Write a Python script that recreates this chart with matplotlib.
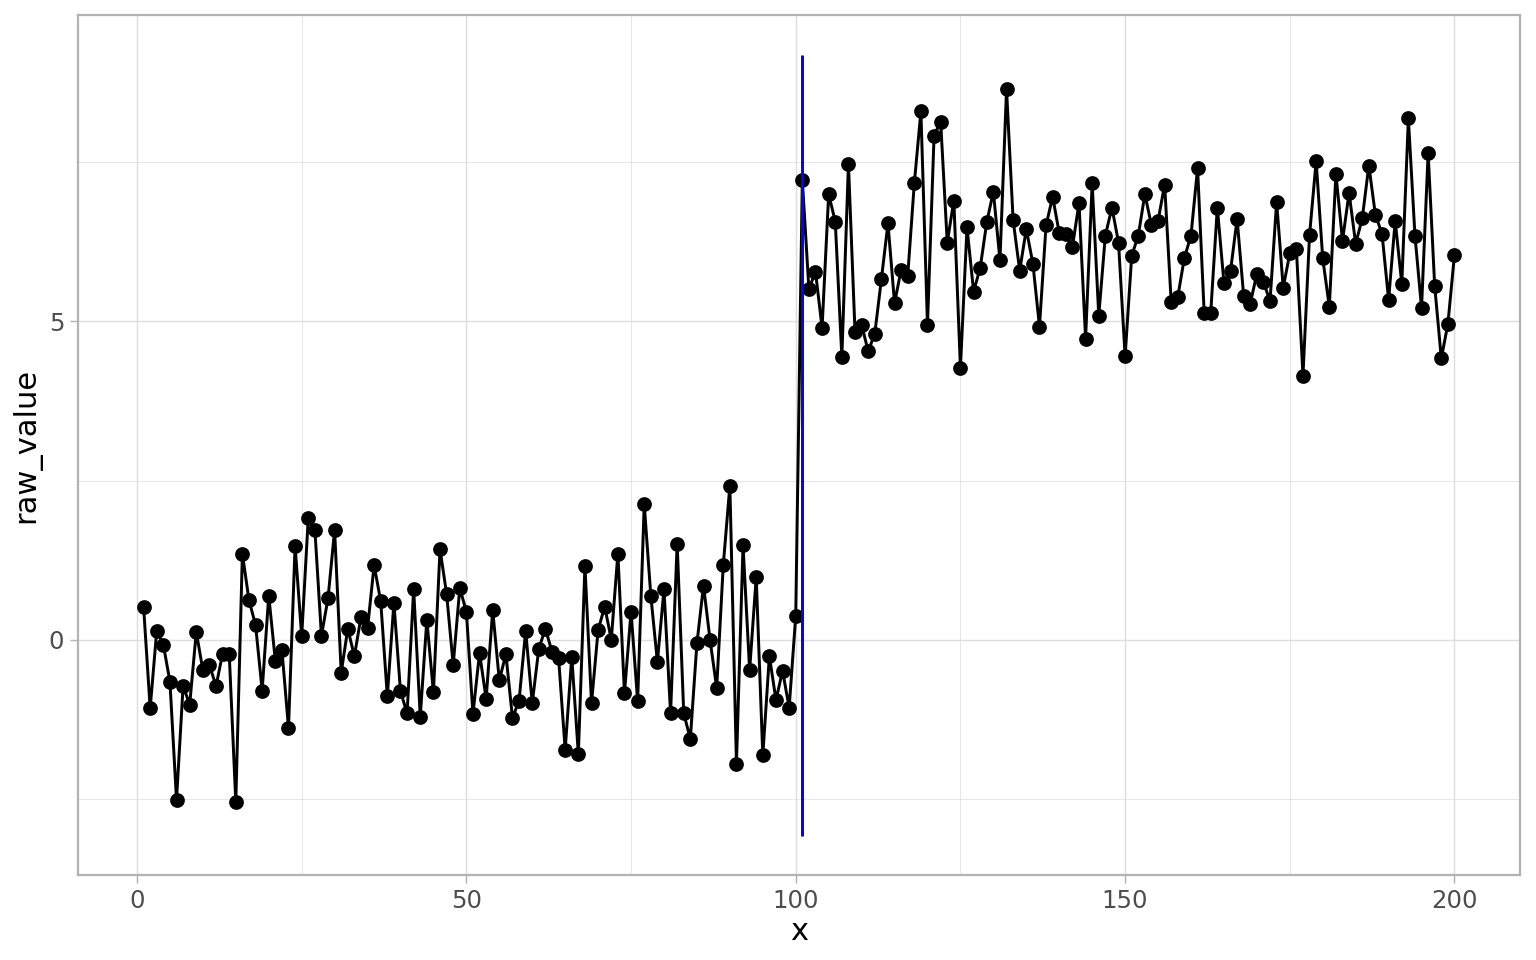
"""
Step-change series: raw_value against x, with a blue marker at the change point
"""
import matplotlib
matplotlib.use('Agg')
import matplotlib.pyplot as plt
from matplotlib.ticker import MultipleLocator
import numpy as np

x = np.arange(1, 201)
raw_value = [
    0.52, -1.08, 0.14, -0.08, -0.66, -2.52, -0.73, -1.02, 0.12, -0.48,
    -0.40, -0.73, -0.22, -0.22, -2.55, 1.35, 0.62, 0.23, -0.80, 0.69,
    -0.33, -0.16, -1.39, 1.47, 0.05, 1.91, 1.73, 0.06, 0.65, 1.72,
    -0.52, 0.17, -0.26, 0.35, 0.18, 1.17, 0.60, -0.89, 0.58, -0.81,
    -1.16, 0.79, -1.21, 0.31, -0.83, 1.42, 0.72, -0.40, 0.81, 0.44,
    -1.17, -0.21, -0.93, 0.46, -0.64, -0.23, -1.23, -0.96, 0.14, -1.00,
    -0.14, 0.17, -0.19, -0.29, -1.73, -0.27, -1.80, 1.16, -1.00, 0.15,
    0.52, 0.00, 1.35, -0.84, 0.44, -0.97, 2.13, 0.69, -0.35, 0.79,
    -1.16, 1.51, -1.16, -1.56, -0.06, 0.85, -0.01, -0.76, 1.17, 2.42,
    -1.95, 1.48, -0.48, 0.98, -1.82, -0.26, -0.95, -0.49, -1.07, 0.37,
    7.22, 5.51, 5.78, 4.90, 7.00, 6.57, 4.44, 7.48, 4.83, 4.95,
    4.53, 4.81, 5.66, 6.54, 5.29, 5.81, 5.72, 7.17, 8.30, 4.94,
    7.92, 8.14, 6.24, 6.90, 4.27, 6.48, 5.47, 5.84, 6.56, 7.04,
    5.96, 8.65, 6.59, 5.80, 6.45, 5.91, 4.92, 6.51, 6.96, 6.39,
    6.38, 6.17, 6.86, 4.73, 7.17, 5.09, 6.35, 6.79, 6.24, 4.45,
    6.03, 6.35, 7.00, 6.51, 6.58, 7.15, 5.30, 5.39, 6.00, 6.35,
    7.41, 5.14, 5.14, 6.79, 5.61, 5.79, 6.61, 5.40, 5.28, 5.75,
    5.62, 5.32, 6.88, 5.53, 6.07, 6.14, 4.15, 6.36, 7.52, 5.99,
    5.23, 7.32, 6.27, 7.02, 6.22, 6.62, 7.45, 6.67, 6.38, 5.34,
    6.58, 5.59, 8.19, 6.35, 5.21, 7.65, 5.55, 4.42, 4.96, 6.05,
]

change_x = 101
change_ymin = -3.08
change_ymax = 9.18

plt.rcParams['font.family'] = ['DejaVu Sans']

fig = plt.figure(figsize=(7.68, 4.8), dpi=200)
ax = fig.add_axes([0.0508, 0.0885, 0.9388, 0.8955])

ax.plot(x, raw_value, color='black', linewidth=1.07, zorder=3)
ax.plot(x, raw_value, 'o', color='black', markersize=4.3, zorder=4)
ax.vlines(change_x, change_ymin, change_ymax, color='#0000FF', linewidth=1.07, zorder=5)

ax.set_xlim(-8.95, 209.95)
ax.set_ylim(-3.70, 9.81)

ax.xaxis.set_major_locator(MultipleLocator(50))
ax.xaxis.set_minor_locator(MultipleLocator(25))
ax.set_yticks([0, 5])
ax.set_yticks([-2.5, 2.5, 7.5], minor=True)

ax.grid(True, which='major', color='#DEDEDE', linewidth=0.53, zorder=0)
ax.grid(True, which='minor', color='#DEDEDE', linewidth=0.27, zorder=0)
ax.set_axisbelow(True)

for spine in ax.spines.values():
    spine.set_color('#B3B3B3')
    spine.set_linewidth(0.8)

ax.tick_params(which='major', length=2.75, width=0.53, color='#B3B3B3',
               labelsize=8.8, labelcolor='#4D4D4D', pad=2.2)
ax.tick_params(which='minor', length=0)

ax.set_xlabel('x', fontsize=11, color='black', labelpad=1.4)
ax.set_ylabel('raw_value', fontsize=11, color='black', labelpad=2.75)

plt.savefig('out.png', dpi=200)
plt.close()
